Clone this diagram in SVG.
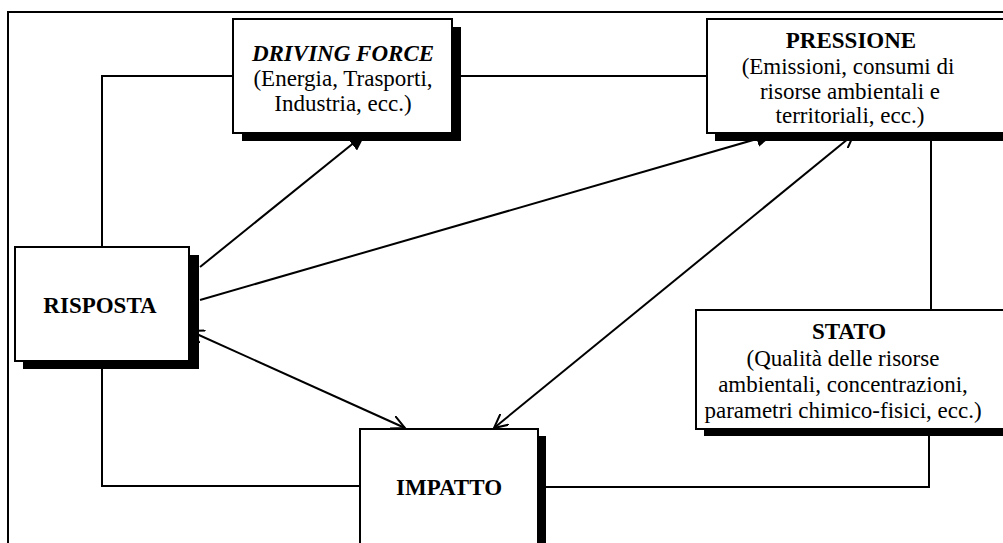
<svg xmlns="http://www.w3.org/2000/svg" width="1003" height="543" viewBox="0 0 1003 543">
<style>
.box{fill:#fff;stroke:#000;stroke-width:2}
.sh{fill:#000}
.ln{fill:none;stroke:#000;stroke-width:2}
.t{font-family:"Liberation Serif","Times New Roman",serif;font-size:23px;fill:#000;text-anchor:middle}
.b{font-weight:bold}
.bi{font-weight:bold;font-style:italic}
</style>
<defs>
<marker id="fill" markerWidth="20" markerHeight="16" refX="18" refY="8" orient="auto" markerUnits="userSpaceOnUse">
<path d="M0,0 L18,8 L0,16 Z" fill="#000"/>
</marker>
<marker id="open" markerWidth="16" markerHeight="14" refX="14" refY="7" orient="auto-start-reverse" markerUnits="userSpaceOnUse">
<path d="M0,0 L14,7 L0,14" fill="none" stroke="#000" stroke-width="2"/>
</marker>
</defs>
<rect width="1003" height="543" fill="#fff"/>
<path class="ln" d="M8,560 L8,12 L1010,12"/>
<g id="connectors">
<path class="ln" d="M233,76 L102,76 L102,247"/>
<path class="ln" d="M452,76 L707,76"/>
<path class="ln" d="M102,369 L102,486 L360,486"/>
<path class="ln" d="M546,487 L929,487 L929,436"/>
<path class="ln" d="M931,310 L931,140"/>
<path class="ln" d="M200,267 L366,133" marker-end="url(#fill)"/>
<path class="ln" d="M200,300 L774,134" marker-end="url(#fill)"/>
<path class="ln" d="M494,428 L854,134" marker-start="url(#open)" marker-end="url(#open)"/>
<path class="ln" d="M190,331 L405,428" marker-start="url(#open)" marker-end="url(#open)"/>
</g>
<g id="driving-force">
<rect class="sh" x="242" y="27" width="219" height="114"/>
<rect class="box" x="233" y="19" width="219" height="114"/>
<text class="t bi" x="343" y="61">DRIVING FORCE</text>
<text class="t" x="343" y="86">(Energia, Trasporti,</text>
<text class="t" x="343" y="111">Industria, ecc.)</text>
</g>
<g id="pressione">
<rect class="sh" x="715" y="27" width="300" height="114"/>
<rect class="box" x="707" y="19" width="300" height="114"/>
<text class="t b" x="851" y="48">PRESSIONE</text>
<text class="t" x="848" y="74">(Emissioni, consumi di</text>
<text class="t" x="850" y="99">risorse ambientali e</text>
<text class="t" x="850" y="123">territoriali, ecc.)</text>
</g>
<g id="risposta">
<rect class="sh" x="23" y="255" width="176" height="114"/>
<rect class="box" x="15" y="247" width="174" height="114"/>
<text class="t b" x="100" y="313">RISPOSTA</text>
</g>
<g id="stato">
<rect class="sh" x="704" y="318" width="310" height="118"/>
<rect class="box" x="696" y="310" width="310" height="119"/>
<text class="t b" x="849" y="339">STATO</text>
<text class="t" x="843" y="366">(Qualità delle risorse</text>
<text class="t" x="843" y="392">ambientali, concentrazioni,</text>
<text class="t" x="843" y="418">parametri chimico-fisici, ecc.)</text>
</g>
<g id="impatto">
<rect class="sh" x="369" y="436" width="177" height="130"/>
<rect class="box" x="360" y="429" width="178" height="130"/>
<text class="t b" x="449" y="495">IMPATTO</text>
</g>
</svg>
